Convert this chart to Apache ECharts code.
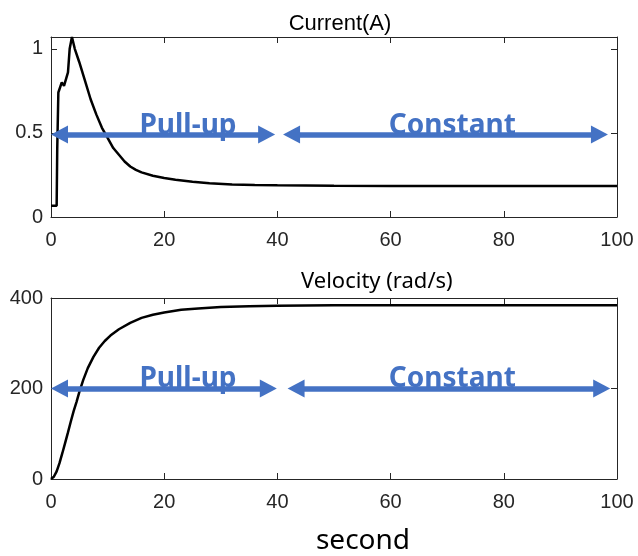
<!DOCTYPE html>
<html>
<head>
<meta charset="utf-8">
<script src="https://cdn.jsdelivr.net/npm/echarts@6/dist/echarts.min.js"></script>
<style>
  html, body { margin: 0; padding: 0; background: #fff; }
  #main { width: 638px; height: 556px; }
</style>
</head>
<body>
<div id="main"></div>
<script>
// current (A) vs time (s)
var curT = [0, 1.0, 1.1, 1.3, 1.9, 2.3, 2.6, 3.0, 3.3, 3.7, 4.2, 5, 6, 7, 8, 9, 10, 11, 12, 13, 14, 15, 16, 18, 20, 22, 25, 28, 32, 36, 40, 50, 60, 70, 80, 90, 100];
var curA = [0.067, 0.067, 0.4, 0.74, 0.80, 0.78, 0.79, 0.86, 1.0, 1.07, 1.0, 0.92, 0.81, 0.70, 0.61, 0.53, 0.47, 0.41, 0.37, 0.33, 0.30, 0.28, 0.265, 0.245, 0.232, 0.222, 0.21, 0.2, 0.193, 0.19, 0.188, 0.186, 0.185, 0.185, 0.185, 0.185, 0.185];
// velocity (rad/s) vs time (s)
var velT = [0, 0.5, 1, 1.5, 2, 2.5, 3, 3.5, 4, 4.5, 5, 5.7, 6.5, 7.5, 8.5, 9.5, 10.5, 12, 14, 16, 18, 20, 23, 26, 30, 35, 40, 50, 60, 70, 80, 90, 100];
var velW = [0, 5, 17, 35, 57, 80, 103, 127, 150, 170, 192, 219, 245, 270, 290, 305, 317, 331, 345, 356, 363, 368, 374, 377, 380, 382, 383, 384, 384, 384, 384, 384, 384];

var xTicks = [0, 20, 40, 60, 80, 100];
var curTicks = [0, 0.5, 1];
var velTicks = [0, 200, 400];

// annotation arrows: [tip start, tip end] in seconds, and label positions
var arrowNames = ['Pull-up', 'Constant'];
var curArrows = [[0, 39.6], [41.0, 98.4]];
var velArrows = [[0, 39.9], [41.8, 98.8]];
var curArrowY = 0.49;
var velArrowY = 200;
var labelX = [24.2, 70.9];

var blue = '#4472C4';
var axisColor = '#262626';
var headLen = 17;
var pxPerSec = 566 / 100;

function pairs(xs, ys) {
  return xs.map(function (x, i) { return [x, ys[i]]; });
}

function arrowLines(spans, y) {
  var off = headLen / 2 / pxPerSec;
  return spans.map(function (s) {
    return [{ coord: [s[0] + off, y] }, { coord: [s[1] - off, y] }];
  });
}

function arrowLabels(y) {
  return arrowNames.map(function (n, i) {
    return {
      coord: [labelX[i], y],
      label: { formatter: n }
    };
  });
}

function xAx(gi, pos, show) {
  return {
    type: 'value', gridIndex: gi, position: pos, min: 0, max: 100, interval: 20,
    axisLine: { show: true, onZero: false, lineStyle: { color: axisColor, width: 1 } },
    axisTick: { show: true, inside: true, length: 6, customValues: xTicks, lineStyle: { color: axisColor } },
    axisLabel: { show: show, margin: 13, customValues: xTicks, color: axisColor, fontSize: 20, fontFamily: 'Liberation Sans' },
    splitLine: { show: false }
  };
}

function yAx(gi, pos, max, ticks, show) {
  return {
    type: 'value', gridIndex: gi, position: pos, min: 0, max: max,
    axisLine: { show: true, onZero: false, lineStyle: { color: axisColor, width: 1 } },
    axisTick: { show: true, inside: true, length: 6, customValues: ticks, lineStyle: { color: axisColor } },
    axisLabel: { show: show, margin: 8, customValues: ticks, color: axisColor, fontSize: 20, fontFamily: 'Liberation Sans' },
    splitLine: { show: false }
  };
}

function lineSeries(xi, yi, data, y, spans) {
  return {
    type: 'line', xAxisIndex: xi, yAxisIndex: yi, data: data,
    showSymbol: false, clip: false,
    lineStyle: { color: '#000', width: 2.5 },
    markLine: {
      silent: true, animation: false,
      symbol: ['triangle', 'triangle'], symbolSize: [18, headLen],
      lineStyle: { color: blue, width: 5.5, type: 'solid' },
      itemStyle: { color: blue },
      label: { show: false },
      data: arrowLines(spans, y)
    },
    markPoint: {
      silent: true, animation: false,
      symbol: 'rect', symbolSize: 0,
      label: {
        show: true, position: 'top', distance: -5,
        color: blue, fontSize: 28, fontWeight: 'bold', fontFamily: 'Noto Sans'
      },
      data: arrowLabels(y)
    }
  };
}

var chart = echarts.init(document.getElementById('main'));
chart.setOption({
  animation: false,
  backgroundColor: '#fff',
  title: [
    { text: 'Current(A)', left: 335, top: 8, textAlign: 'center',
      textStyle: { fontSize: 22, fontWeight: 'normal', color: '#000', fontFamily: 'Liberation Sans' } },
    { text: 'Velocity (rad/s)', left: 296, top: 266,
      textStyle: { fontSize: 22, fontWeight: 'normal', color: '#000', fontFamily: 'Noto Sans' } },
    { text: 'second', left: 358, top: 522, textAlign: 'center',
      textStyle: { fontSize: 28, fontWeight: 'normal', color: '#000', fontFamily: 'Noto Sans' } }
  ],
  grid: [
    { left: 51, top: 37, width: 566, height: 180 },
    { left: 51, top: 298, width: 566, height: 181 }
  ],
  xAxis: [xAx(0, 'bottom', true), xAx(0, 'top', false), xAx(1, 'bottom', true), xAx(1, 'top', false)],
  yAxis: [
    yAx(0, 'left', 1.07, curTicks, true), yAx(0, 'right', 1.07, curTicks, false),
    yAx(1, 'left', 400, velTicks, true), yAx(1, 'right', 400, velTicks, false)
  ],
  series: [
    lineSeries(0, 0, pairs(curT, curA), curArrowY, curArrows),
    lineSeries(2, 2, pairs(velT, velW), velArrowY, velArrows)
  ]
});
</script>
</body>
</html>
